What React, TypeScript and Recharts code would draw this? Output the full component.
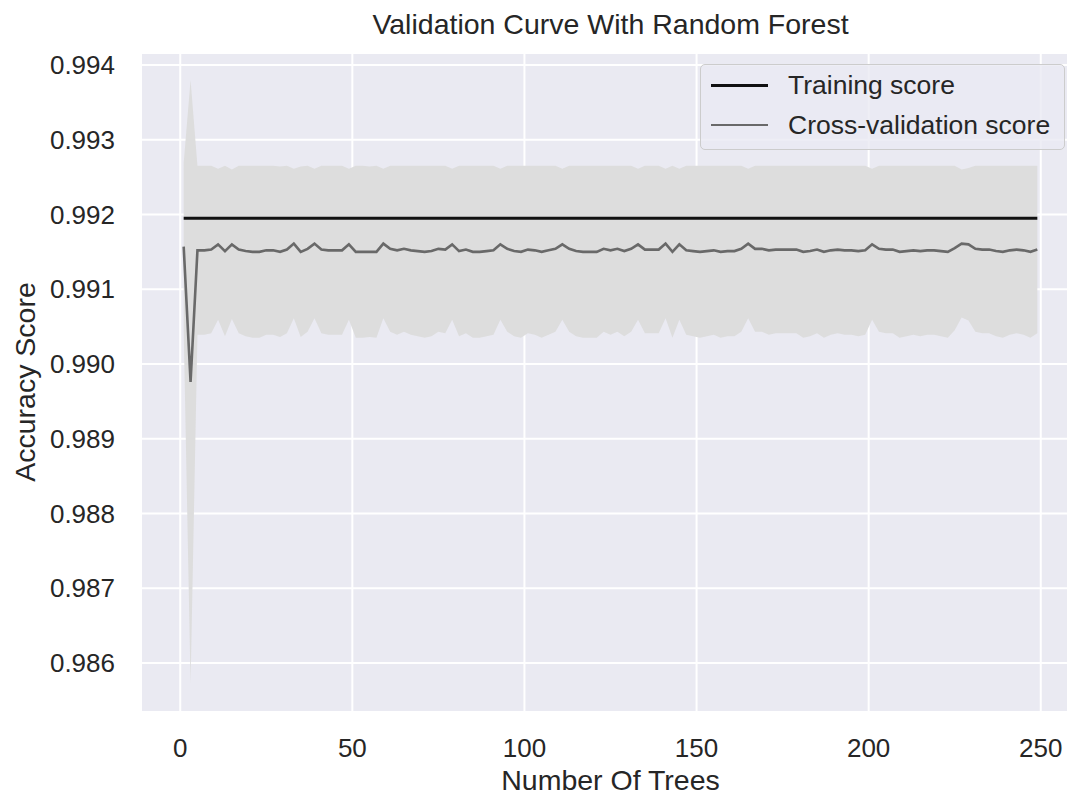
import { ComposedChart, Area, Line, XAxis, YAxis, CartesianGrid } from 'recharts'

// number of trees tried (every other value, 1..249)
const trees = [
  1, 3, 5, 7, 9, 11, 13, 15, 17, 19, 21, 23, 25, 27, 29, 31, 33, 35, 37, 39,
  41, 43, 45, 47, 49, 51, 53, 55, 57, 59, 61, 63, 65, 67, 69, 71, 73, 75, 77, 79,
  81, 83, 85, 87, 89, 91, 93, 95, 97, 99, 101, 103, 105, 107, 109, 111, 113, 115, 117, 119,
  121, 123, 125, 127, 129, 131, 133, 135, 137, 139, 141, 143, 145, 147, 149, 151, 153, 155, 157, 159,
  161, 163, 165, 167, 169, 171, 173, 175, 177, 179, 181, 183, 185, 187, 189, 191, 193, 195, 197, 199,
  201, 203, 205, 207, 209, 211, 213, 215, 217, 219, 221, 223, 225, 227, 229, 231, 233, 235, 237, 239,
  241, 243, 245, 247, 249,
]

const trainScore = 0.99195

const cvMean = [
  0.99157, 0.98976, 0.99152, 0.99152, 0.99153, 0.9916, 0.99151, 0.9916, 0.99153, 0.99151,
  0.9915, 0.9915, 0.99152, 0.99152, 0.9915, 0.99153, 0.99161, 0.9915, 0.99154, 0.99161,
  0.99153, 0.99152, 0.99152, 0.99152, 0.9916, 0.9915, 0.9915, 0.9915, 0.9915, 0.99161,
  0.99154, 0.99152, 0.99154, 0.99152, 0.99151, 0.9915, 0.99151, 0.99154, 0.99153, 0.9916,
  0.99151, 0.99153, 0.9915, 0.9915, 0.99151, 0.99152, 0.9916, 0.99154, 0.99151, 0.9915,
  0.99153, 0.99152, 0.9915, 0.99152, 0.99154, 0.9916, 0.99154, 0.99151, 0.9915, 0.9915,
  0.9915, 0.99154, 0.99152, 0.99154, 0.99151, 0.99154, 0.9916, 0.99153, 0.99153, 0.99153,
  0.99161, 0.9915, 0.9916, 0.99152, 0.99151, 0.9915, 0.99151, 0.99152, 0.9915, 0.99151,
  0.99151, 0.99154, 0.99161, 0.99154, 0.99154, 0.99152, 0.99153, 0.99153, 0.99153, 0.99153,
  0.9915, 0.99151, 0.99153, 0.9915, 0.99152, 0.99153, 0.99152, 0.99152, 0.99151, 0.99152,
  0.9916, 0.99154, 0.99153, 0.99153, 0.9915, 0.99151, 0.99152, 0.99151, 0.99152, 0.99152,
  0.99151, 0.9915, 0.99155, 0.99161, 0.9916, 0.99154, 0.99153, 0.99153, 0.99151, 0.9915,
  0.99152, 0.99153, 0.99152, 0.9915, 0.99153,
]

const cvStd = [
  0.00112, 0.00404, 0.00113, 0.00113, 0.00112, 0.00101, 0.00114, 0.001, 0.00112, 0.00114,
  0.00115, 0.00115, 0.00113, 0.00113, 0.00114, 0.00112, 0.001, 0.00114, 0.00111, 0.001,
  0.00112, 0.00113, 0.00113, 0.00113, 0.00101, 0.00115, 0.00115, 0.00114, 0.00115, 0.001,
  0.00111, 0.00113, 0.00111, 0.00113, 0.00114, 0.00115, 0.00114, 0.00111, 0.00112, 0.00101,
  0.00114, 0.00112, 0.00115, 0.00115, 0.00114, 0.00113, 0.00101, 0.00111, 0.00114, 0.00115,
  0.00112, 0.00113, 0.00115, 0.00113, 0.00111, 0.00101, 0.00111, 0.00114, 0.00115, 0.00115,
  0.00115, 0.00111, 0.00113, 0.00111, 0.00114, 0.00111, 0.00101, 0.00112, 0.00112, 0.00112,
  0.001, 0.00115, 0.00101, 0.00113, 0.00114, 0.00115, 0.00114, 0.00113, 0.00115, 0.00114,
  0.00114, 0.00111, 0.001, 0.00111, 0.00111, 0.00113, 0.00112, 0.00112, 0.00112, 0.00112,
  0.00115, 0.00114, 0.00112, 0.00115, 0.00113, 0.00112, 0.00113, 0.00113, 0.00114, 0.00113,
  0.00101, 0.00111, 0.00112, 0.00112, 0.00115, 0.00114, 0.00113, 0.00114, 0.00113, 0.00113,
  0.00114, 0.00115, 0.0011, 0.00099, 0.00102, 0.00111, 0.00112, 0.00112, 0.00114, 0.00115,
  0.00113, 0.00112, 0.00113, 0.00115, 0.00112,
]

const xTicks = [0, 50, 100, 150, 200, 250]
const yTicks = [0.986, 0.987, 0.988, 0.989, 0.99, 0.991, 0.992, 0.993, 0.994]

const FONT = '"Liberation Sans", Arial, Helvetica, sans-serif'
const TEXT = '#262626'

const data = trees.map((t, i) => ({
  trees: t,
  train: trainScore,
  cv: cvMean[i],
  band: [cvMean[i] - cvStd[i], cvMean[i] + cvStd[i]],
}))

export default function App() {
  return (
    <div
      style={{
        position: 'fixed',
        top: 0,
        left: 0,
        width: 1067,
        height: 796,
        overflow: 'hidden',
        background: '#fff',
        fontFamily: FONT,
      }}
    >
      <ComposedChart
        width={1081}
        height={796}
        data={data}
        margin={{ top: 53, right: 1, bottom: 34, left: 0 }}
      >
        <CartesianGrid fill="#EAEAF2" stroke="#fff" strokeWidth={2} />
        <XAxis
          dataKey="trees"
          type="number"
          domain={[-11.4, 261.4]}
          ticks={xTicks}
          interval={0}
          allowDataOverflow
          axisLine={false}
          tickLine={false}
          tickSize={0}
          tickMargin={27}
          height={50}
          tick={{ fill: TEXT, fontSize: 26, fontFamily: FONT }}
        />
        <YAxis
          type="number"
          domain={[0.985344, 0.99416]}
          ticks={yTicks}
          interval={0}
          allowDataOverflow
          axisLine={false}
          tickLine={false}
          tickSize={0}
          tickMargin={26}
          width={141}
          tickFormatter={(v: number) => v.toFixed(3)}
          tick={{ fill: TEXT, fontSize: 26, fontFamily: FONT }}
        />
        <Area
          type="linear"
          dataKey="band"
          fill="#DDDDDD"
          fillOpacity={1}
          stroke="none"
          isAnimationActive={false}
          dot={false}
          activeDot={false}
        />
        <Line
          type="linear"
          dataKey="train"
          stroke="#111111"
          strokeWidth={3}
          dot={false}
          activeDot={false}
          isAnimationActive={false}
        />
        <Line
          type="linear"
          dataKey="cv"
          stroke="#696969"
          strokeWidth={2.6}
          dot={false}
          activeDot={false}
          isAnimationActive={false}
        />
      </ComposedChart>

      {/* title */}
      <div
        style={{
          position: 'absolute',
          top: 6,
          left: 0,
          width: 1221,
          textAlign: 'center',
          fontSize: 28.5,
          lineHeight: '36px',
          color: TEXT,
        }}
      >
        Validation Curve With Random Forest
      </div>

      {/* axis labels */}
      <div
        style={{
          position: 'absolute',
          top: 762,
          left: 0,
          width: 1221,
          textAlign: 'center',
          fontSize: 28.5,
          lineHeight: '36px',
          color: TEXT,
        }}
      >
        Number Of Trees
      </div>
      <div
        style={{
          position: 'absolute',
          left: 25,
          top: 382,
          transform: 'translate(-50%, -50%) rotate(-90deg)',
          whiteSpace: 'nowrap',
          fontSize: 28.5,
          lineHeight: '36px',
          color: TEXT,
        }}
      >
        Accuracy Score
      </div>

      {/* legend */}
      <div
        style={{
          position: 'absolute',
          left: 700,
          top: 64,
          width: 363,
          height: 84,
          background: 'rgba(234,234,242,0.8)',
          border: '1px solid #CCCCCC',
          borderRadius: 5,
        }}
      >
        {[
          { label: 'Training score', color: '#111111', w: 3, y: 20 },
          { label: 'Cross-validation score', color: '#696969', w: 2.6, y: 60 },
        ].map((item) => (
          <div key={item.label}>
            <div
              style={{
                position: 'absolute',
                left: 10,
                top: item.y - item.w / 2,
                width: 57,
                height: item.w,
                background: item.color,
              }}
            />
            <div
              style={{
                position: 'absolute',
                left: 87,
                top: item.y - 18,
                fontSize: 26.5,
                lineHeight: '36px',
                whiteSpace: 'nowrap',
                color: TEXT,
              }}
            >
              {item.label}
            </div>
          </div>
        ))}
      </div>
    </div>
  )
}
